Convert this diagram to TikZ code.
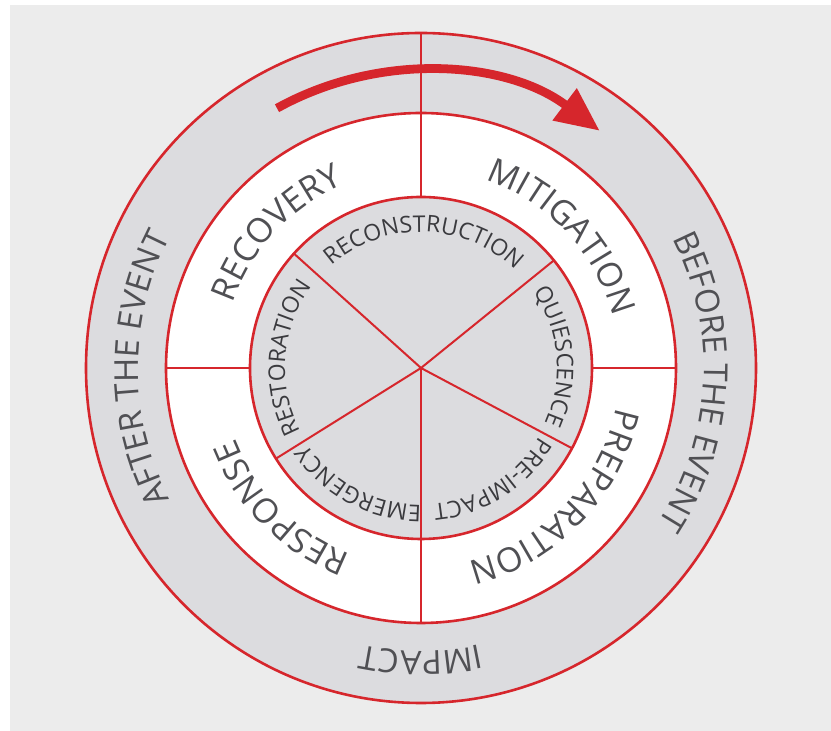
\documentclass[tikz,border=0pt]{standalone}
\usepackage{fontspec}
\setmainfont{Open Sans}
\usetikzlibrary{decorations.text,arrows.meta}

\definecolor{ringred}{RGB}{214,38,44}
\definecolor{ringgray}{RGB}{220,220,223}
\definecolor{panelgray}{RGB}{236,236,236}
\definecolor{labelgray}{RGB}{80,80,84}
\definecolor{innergray}{RGB}{58,58,62}

\tikzset{
  redline/.style={draw=ringred, line width=1.3pt},
  spoke/.style={draw=ringred, line width=1pt},
}

% #1 baseline radius, #2 centre angle, #3 font size, #4 colour, #5 text (clockwise, tops outward)
\newcommand{\ringtext}[5]{%
  \path[decorate, decoration={text along path, text align=center,
      text={|\color{#4}\fontsize{#3}{#3}\selectfont|#5}}]
    (#2+85:#1) arc[start angle=#2+85, end angle=#2-85, radius=#1];
}

\begin{document}
\begin{tikzpicture}[x=0.5pt,y=0.5pt]
  \useasboundingbox (-421,-363) rectangle (410,368);
  \fill[panelgray] (-411,-363) rectangle (410,363);

  % rings
  \draw[redline, fill=ringgray] (0,0) circle[radius=335];
  \draw[redline, fill=white] (0,0) circle[radius=255];
  \draw[redline, fill=ringgray] (0,0) circle[radius=171];

  % dividers
  \draw[spoke] (90:335) -- (90:171);
  \draw[spoke] (180:255) -- (180:171);
  \draw[spoke] (0:255) -- (0:171);
  \draw[spoke] (0,0) -- (270:255);
  \draw[spoke] (0,0) -- (39:171);
  \draw[spoke] (0,0) -- (138:171);
  \draw[spoke] (0,0) -- (212:171);
  \draw[spoke] (0,0) -- (332:171);

  % arrow
  \draw[ringred, line width=4.4pt, -{Triangle[length=22pt,width=19pt]}]
    (119:297) arc[start angle=119, end angle=53, radius=297];

  % outer ring
  \ringtext{283}{180}{16.5}{labelgray}{AFTER THE EVENT}
  \ringtext{283}{-3}{16.5}{labelgray}{BEFORE THE EVENT}
  \ringtext{283}{270}{16.5}{labelgray}{IMPACT}

  % middle ring
  \ringtext{199}{137}{17}{labelgray}{RECOVERY}
  \ringtext{199}{43}{17}{labelgray}{MITIGATION}
  \ringtext{199}{-44}{17}{labelgray}{PREPARATION}
  \ringtext{199}{225}{17}{labelgray}{RESPONSE}

  % inner disc
  \ringtext{136}{88.5}{11.5}{innergray}{RECONSTRUCTION}
  \ringtext{136}{5}{11.5}{innergray}{QUIESCENCE}
  \ringtext{137}{-57.5}{11.5}{innergray}{PRE-IMPACT}
  \ringtext{137}{242}{11.5}{innergray}{EMERGENCY}
  \ringtext{136}{175.5}{11.5}{innergray}{RESTORATION}
\end{tikzpicture}
\end{document}
